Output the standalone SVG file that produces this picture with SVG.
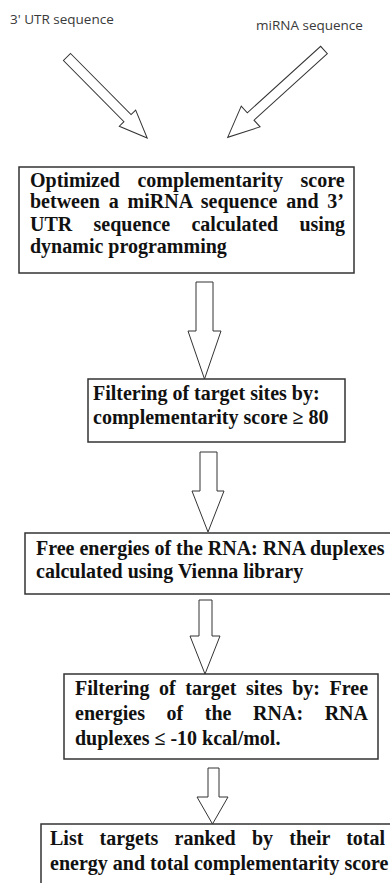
<svg xmlns="http://www.w3.org/2000/svg" width="390" height="883" viewBox="0 0 390 883">
<style>
.bg{fill:#ffffff}
.box{fill:#ffffff;stroke:#333333;stroke-width:1.5}
.arr{fill:#ffffff;stroke:#333333;stroke-width:1}
.t{font-family:"Liberation Serif","Times New Roman",serif;font-weight:bold;font-size:20px;fill:#111111}
.lbl{font-family:"Open Sans","DejaVu Sans",sans-serif;font-size:13.5px;fill:#3a3a3a}
</style>
<rect class="bg" x="0" y="0" width="390" height="883"/>
<g id="label-utr"><text class="lbl" x="10" y="24">3' UTR sequence</text></g>
<g id="label-mirna"><text class="lbl" x="256" y="30">miRNA sequence</text></g>
<g id="connectors">
<polygon class="arr" transform="translate(67,57) rotate(45.3)" points="0,-5 86,-5 86,-11.5 114,0 86,11.5 86,5 0,5"/>
<polygon class="arr" transform="translate(324,50) rotate(137.8)" points="0,-5 99,-5 99,-14 130,0 99,14 99,5 0,5"/>
<polygon class="arr" points="196,282 213,282 213,331 221,331 204.5,379 188,331 196,331"/>
<polygon class="arr" points="200,452 217,452 217,491 224,491 208,532 192,491 200,491"/>
<polygon class="arr" points="199,600 212,600 212,636 220,636 205,674 190,636 199,636"/>
<polygon class="arr" points="208,768 219,768 219,797 228,797 212.5,824 197,797 208,797"/>
</g>
<g id="node-optimized">
<rect class="box" x="19" y="167" width="335" height="106"/>
<text class="t" x="30" y="187" word-spacing="12.5">Optimized complementarity score</text>
<text class="t" x="30" y="208" word-spacing="3.8">between a miRNA sequence and 3’</text>
<text class="t" x="30" y="231" word-spacing="16.3">UTR sequence calculated using</text>
<text class="t" x="30" y="253">dynamic programming</text>
</g>
<g id="node-filter-score">
<rect class="box" x="88" y="379" width="257" height="63"/>
<text class="t" x="93" y="400">Filtering of target sites by:</text>
<text class="t" x="93" y="424">complementarity score ≥ 80</text>
</g>
<g id="node-free-energy">
<rect class="box" x="25" y="533" width="370" height="61"/>
<text class="t" x="36" y="555">Free energies of the RNA: RNA duplexes</text>
<text class="t" x="36" y="578">calculated using Vienna library</text>
</g>
<g id="node-filter-energy">
<rect class="box" x="64" y="674" width="314" height="85"/>
<text class="t" x="75" y="695" word-spacing="4.6">Filtering of target sites by: Free</text>
<text class="t" x="75" y="720" word-spacing="16.6">energies of the RNA: RNA</text>
<text class="t" x="75" y="745">duplexes ≤ -10 kcal/mol.</text>
</g>
<g id="node-list">
<rect class="box" x="41" y="824" width="360" height="70"/>
<text class="t" x="50" y="845" word-spacing="11.2">List targets ranked by their total</text>
<text class="t" x="50" y="870">energy and total complementarity score</text>
</g>
</svg>
